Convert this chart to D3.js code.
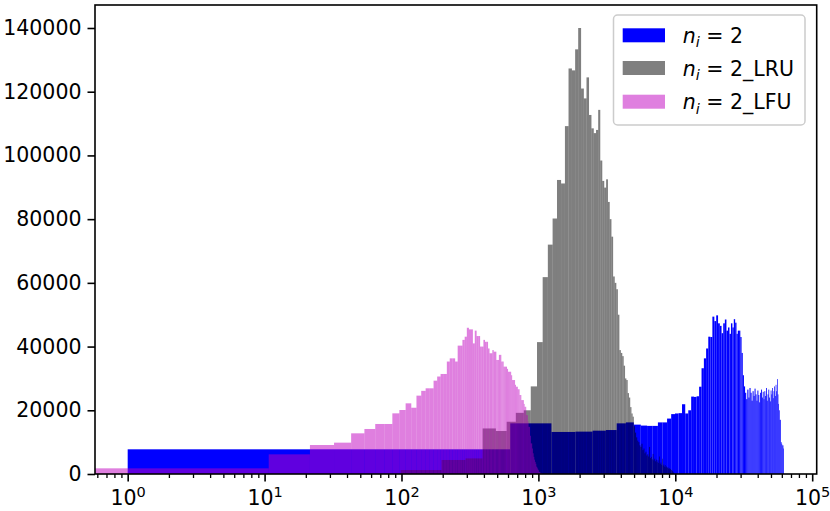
<!DOCTYPE html>
<html><head><meta charset="utf-8">
<script src="https://cdn.jsdelivr.net/npm/d3@7"></script>
<style>
body{margin:0;background:#fff}
svg{display:block}
text{font-family:"DejaVu Sans",sans-serif}
</style>
</head><body>
<svg id="chart" width="830" height="511"></svg>
<script>
// ---------- data ----------
const seriesLabels = ["2", "2_LRU", "2_LFU"];
const seriesColors = ["#0000ff", "#000000", "#bf00bf"];
const seriesAlpha  = [1, 0.5, 0.5];

// histogram bins: linear bins (start, width), counts per bin
const blueStart = 1, blueWidth = 622;
const blueCounts = [7750,15900,13200,13300,13600,13800,15900,16200,15500,15200,
15100,15100,16200,16200,17400,18800,19000,19100,21900,19000,
20000,24300,24200,24400,27400,33200,36300,39400,43100,43000,
49400,48000,49800,47300,46500,44200,47300,48500,45000,46000,
44000,47300,46000,48600,47500,44000,45000,45000,43000,38000,
31000,27500,25500,23500,26500,24000,27000,25500,23000,26000,
24500,26800,25000,23000,26200,24800,22500,25500,26500,24000,
25800,23500,26000,24500,27000,23000,25000,26500,24000,22800,
26200,25000,27000,23800,26000,27500,24500,28000,26000,29800,
25000,22000,20000,17000,17000,10000,9500,9000,9000,8000];

const lruStart = 1, lruWidth = 97.6;
const lruCounts = [0,1250,4400,4900,14300,13500,16400,19200,20000,27500,
41400,61800,72000,80200,92300,91200,109200,127300,126700,133300,
140000,121000,117900,124500,112700,108500,107000,108000,114300,98400,
92000,89900,92500,85400,80000,74500,62000,60000,58000,50000,
38900,38000,37000,34000,30000,29500,25400,24000,21000,19000,
18000,15000,13000,11500,10500,10000,9000,8500,9500,7500,
8000,6500,7000,5800,6200,5500,8500,5000,5400,4600,
6300,4300,4800,4000,4500,3700,4300,3500,5500,3200,
3600,2900,4800,2600,3000,2300,2800,2100,2400,1900,
2200,1700,1900,1500,1600,1300,1200,1000,800,500];

const lfuStart = 0, lfuWidth = 10.72;
const lfuCounts = [1780,6170,9100,9840,12770,14130,15700,15700,19040,20090,
22180,20800,24600,26100,26900,26900,29300,30600,31400,31400,
35300,36300,36300,35300,40300,40300,42100,43100,45900,45400,
45400,41000,45000,43300,43300,40000,40000,42100,41500,41500,
39400,37900,37900,38900,38400,38400,35800,35800,37400,37400,
35300,35300,33700,33700,33700,33000,32100,32100,32100,31000,
29500,29500,29500,28000,27400,27400,26600,26600,24800,24800,
23200,23200,23200,22000,21100,21100,18500,18500,16500,14800,
14800,12000,9600,9600,8000,6500,5400,4500,3800,3200,
2300,2000,1500,1200,700,600,400,300,200,100];

const yTickValues = [0,20000,40000,60000,80000,100000,120000,140000];
const xTickExponents = [0,1,2,3,4,5];

// ---------- layout ----------
const svg = d3.select("#chart");
const plot = {left:95, right:816.7, top:5, bottom:474};
const x = d3.scaleLog().domain([0.5771, 107870]).range([plot.left, plot.right]);
const y = d3.scaleLinear().domain([0, 147220]).range([plot.bottom, plot.top]);

const series = [
  {start: blueStart, width: blueWidth, counts: blueCounts},
  {start: lruStart, width: lruWidth, counts: lruCounts},
  {start: lfuStart, width: lfuWidth, counts: lfuCounts}
];

svg.append("defs").append("clipPath").attr("id","pc")
  .append("rect").attr("x",plot.left).attr("y",plot.top)
  .attr("width",plot.right-plot.left).attr("height",plot.bottom-plot.top);

const gBars = svg.append("g").attr("clip-path","url(#pc)");
const xmin = x.domain()[0];
series.forEach((s, si) => {
  const bins = s.counts.map((c,i)=>({x0: s.start + i*s.width, x1: s.start + (i+1)*s.width, c}))
                       .filter(d=>d.c>0);
  gBars.append("g")
    .attr("fill", seriesColors[si])
    .attr("fill-opacity", seriesAlpha[si])
    .selectAll("rect").data(bins).join("rect")
    .attr("x", d => x(Math.max(d.x0, xmin)))
    .attr("width", d => x(d.x1) - x(Math.max(d.x0, xmin)))
    .attr("y", d => y(d.c))
    .attr("height", d => y(0) - y(d.c));
});

// ---------- axes ----------
const fs = 20.5;
const yAxis = svg.append("g").attr("transform",`translate(${plot.left},0)`)
  .call(d3.axisLeft(y).tickValues(yTickValues).tickSize(7.5).tickPadding(6).tickFormat(d3.format("d")));
yAxis.select(".domain").remove();
yAxis.selectAll("line").attr("stroke","#000").attr("stroke-width",1.6);
yAxis.selectAll("text").attr("font-size",fs).attr("fill","#000").attr("font-family","DejaVu Sans");

// minor x ticks
const minor = [];
for (let e=-1;e<=4;e++) for (let m=2;m<=9;m++){ const v=m*Math.pow(10,e); if (v>=x.domain()[0] && v<=x.domain()[1]) minor.push(v); }
const xMinor = svg.append("g").attr("transform",`translate(0,${plot.bottom})`)
  .call(d3.axisBottom(x).tickValues(minor).tickSize(4).tickFormat(""));
xMinor.select(".domain").remove();
xMinor.selectAll("line").attr("stroke","#000").attr("stroke-width",1.3);

const xMajor = svg.append("g").attr("transform",`translate(0,${plot.bottom})`)
  .call(d3.axisBottom(x).tickValues(xTickExponents.map(e=>Math.pow(10,e))).tickSize(7.5).tickPadding(7).tickFormat(""));
xMajor.select(".domain").remove();
xMajor.selectAll("line").attr("stroke","#000").attr("stroke-width",1.6);
xMajor.selectAll(".tick").each(function(d,i){
  const t = d3.select(this).append("text").attr("y", 31).attr("text-anchor","middle")
     .attr("font-size",fs).attr("fill","#000").attr("font-family","DejaVu Sans");
  t.append("tspan").text("10");
  t.append("tspan").attr("dy",-8.5).attr("font-size",14.5).text(String(xTickExponents[i]));
});

// spines
svg.append("rect").attr("x",plot.left).attr("y",plot.top)
  .attr("width",plot.right-plot.left).attr("height",plot.bottom-plot.top)
  .attr("fill","none").attr("stroke","#000").attr("stroke-width",1.6);

// ---------- legend ----------
const lg = svg.append("g");
lg.append("rect").attr("x",613.5).attr("y",15).attr("width",191.5).attr("height",110).attr("rx",4)
  .attr("fill","#fff").attr("fill-opacity",0.8).attr("stroke","#cccccc").attr("stroke-width",1.5);
const ly = [35.3, 68, 101.7];
seriesLabels.forEach((lab,i)=>{
  lg.append("rect").attr("x",622.7).attr("y",ly[i]-7).attr("width",42.3).attr("height",14)
    .attr("fill",seriesColors[i]).attr("fill-opacity",seriesAlpha[i]);
  const t = lg.append("text").attr("x",682.7).attr("y",ly[i]+7.5).attr("font-size",fs).attr("fill","#000");
  t.append("tspan").attr("font-style","italic").text("n");
  t.append("tspan").attr("font-style","italic").attr("font-size",14.5).attr("dy",4.5).text("i");
  const rest = lab.split("_");
  t.append("tspan").attr("dy",-4.5).text(" = 2");
  if (rest.length>1) t.append("tspan").text("_"+rest[1]);
});
</script>
</body></html>
